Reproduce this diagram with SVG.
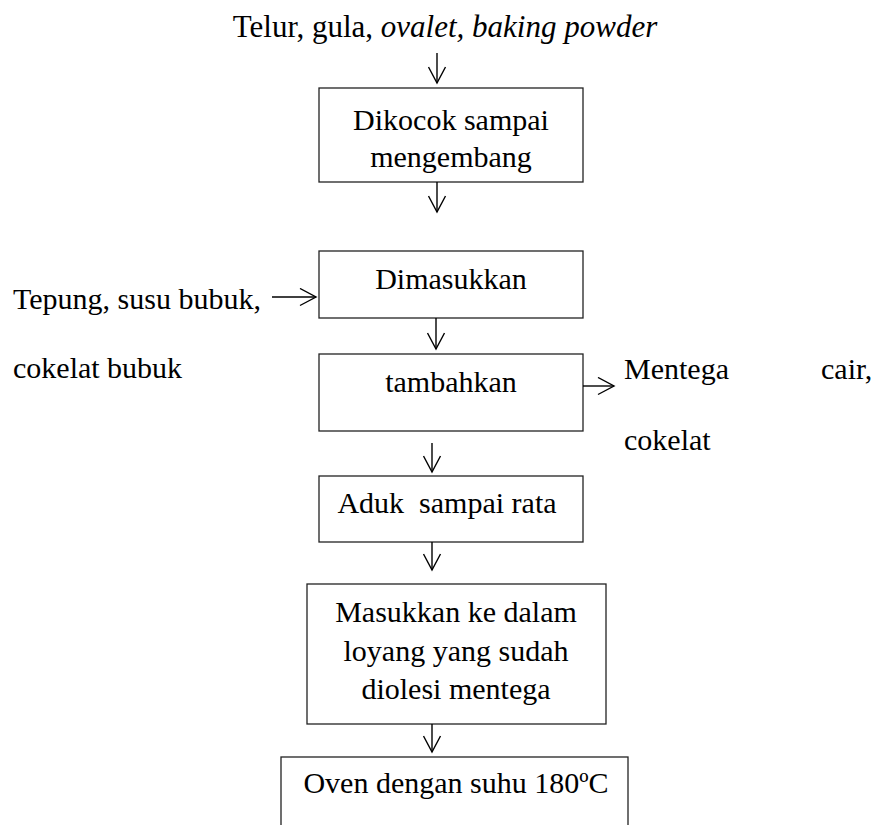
<svg xmlns="http://www.w3.org/2000/svg" width="877" height="825" viewBox="0 0 877 825">
  <style>
    text { font-family: "Liberation Serif", "Times New Roman", serif; font-size: 30px; fill: #000; }
    .c { text-anchor: middle; }
    .title { font-size: 31px; }
    .box { fill: #fff; stroke: #222; stroke-width: 1.3; }
    .con { stroke: #000; stroke-width: 1.4; fill: none; marker-end: url(#arr); }
  </style>
  <defs>
    <marker id="arr" viewBox="0 0 19 19" refX="17" refY="9.5" markerWidth="19" markerHeight="19" markerUnits="userSpaceOnUse" orient="auto">
      <path d="M1,1 L17,9.5 L1,18" fill="none" stroke="#000" stroke-width="1.4"/>
    </marker>
  </defs>
  <rect width="877" height="825" fill="#fff"/>

  <g id="input-top">
    <text class="c title" x="445" y="37">Telur, gula, <tspan font-style="italic">ovalet, baking powder</tspan></text>
  </g>

  <g id="node-dikocok">
    <rect class="box" x="319" y="88" width="264" height="94"/>
    <text class="c" x="451" y="130">Dikocok sampai</text>
    <text class="c" x="451" y="167">mengembang</text>
  </g>

  <g id="input-left">
    <text x="13" y="309">Tepung, susu bubuk,</text>
    <text x="13" y="378">cokelat bubuk</text>
  </g>

  <g id="node-dimasukkan">
    <rect class="box" x="319" y="251" width="264" height="67"/>
    <text class="c" x="451" y="289">Dimasukkan</text>
  </g>

  <g id="node-tambahkan">
    <rect class="box" x="319" y="354" width="264" height="77"/>
    <text class="c" x="451" y="392">tambahkan</text>
  </g>

  <g id="input-right">
    <text y="379"><tspan x="624">Mentega</tspan><tspan x="821">cair,</tspan></text>
    <text x="624" y="450">cokelat</text>
  </g>

  <g id="node-aduk">
    <rect class="box" x="319" y="476" width="264" height="66"/>
    <text class="c" x="447" y="513" style="white-space:pre">Aduk  sampai rata</text>
  </g>

  <g id="node-masukkan">
    <rect class="box" x="307" y="584" width="299" height="140"/>
    <text class="c" x="456" y="622">Masukkan ke dalam</text>
    <text class="c" x="456" y="661">loyang yang sudah</text>
    <text class="c" x="456" y="699">diolesi mentega</text>
  </g>

  <g id="node-oven">
    <rect class="box" x="281" y="757" width="347" height="90"/>
    <text class="c" x="456" y="793">Oven dengan suhu 180ºC</text>
  </g>

  <g id="connectors">
    <path class="con" d="M437,53 V83"/>
    <path class="con" d="M437,182 V212"/>
    <path class="con" d="M272,297 H316"/>
    <path class="con" d="M436,318 V349"/>
    <path class="con" d="M583,386 H614"/>
    <path class="con" d="M432,443 V472"/>
    <path class="con" d="M432,542 V570"/>
    <path class="con" d="M432,724 V752"/>
  </g>
</svg>
